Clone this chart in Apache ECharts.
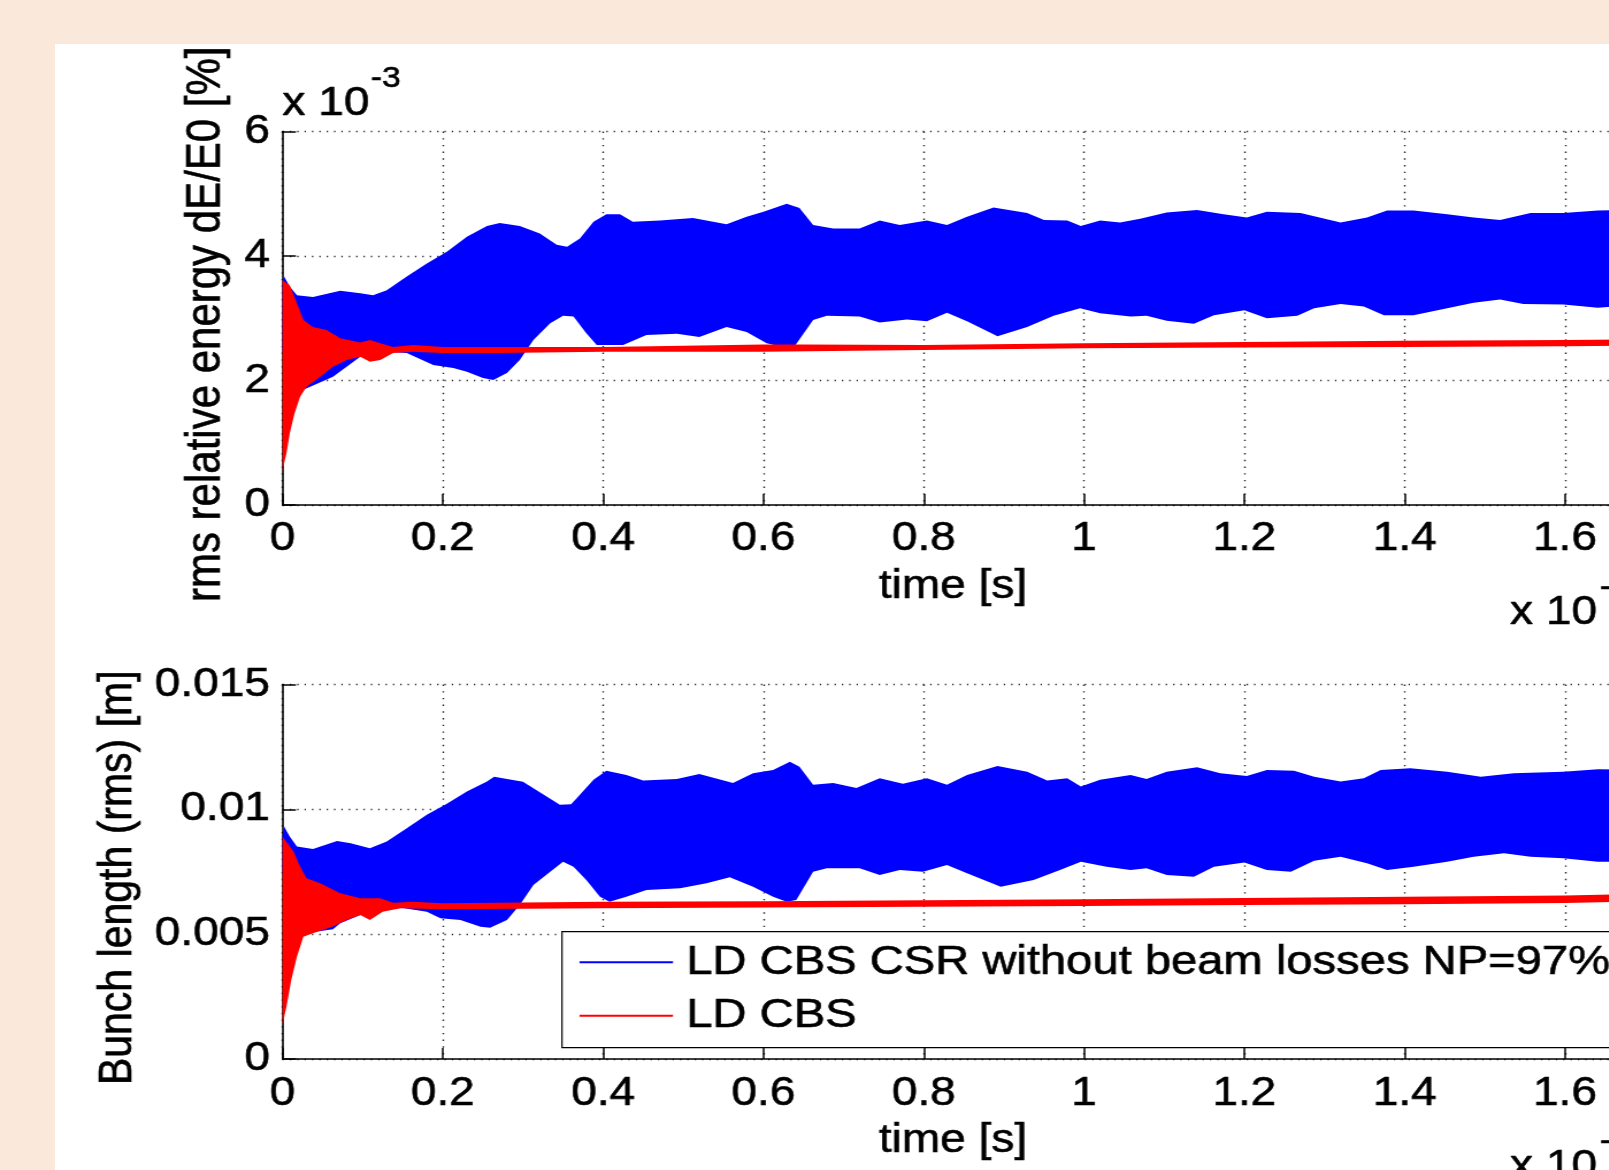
<!DOCTYPE html>
<html>
<head>
<meta charset="utf-8">
<script src="https://cdn.jsdelivr.net/npm/echarts@6/dist/echarts.min.js"></script>
<style>
html,body{margin:0;padding:0;width:1609px;height:1170px;overflow:hidden;background:#FAE8DA;}
#paper{position:absolute;left:55px;top:44px;right:0;bottom:0;background:#ffffff;}
#chart{position:absolute;left:0;top:0;width:1500px;height:1170px;transform:scaleX(1.15);transform-origin:0 0;}
</style>
</head>
<body>
<div id="paper"></div>
<div id="chart"></div>
<script>
// ---------------- data (time in units of 1e-3 s) ----------------
const T_MAX = 1.673;
const SERIES_NAMES = ['LD CBS CSR without beam losses NP=97%', 'LD CBS'];

// Top panel: rms relative energy dE/E0 [%] (units of 1e-3)
const eBlueHiT = [0,0.002,0.009,0.018,0.038,0.072,0.097,0.113,0.13,0.155,0.18,0.205,0.23,0.255,0.271,0.296,0.321,0.342,0.355,0.371,0.388,0.404,0.421,0.437,0.471,0.512,0.554,0.579,0.6,0.629,0.645,0.662,0.687,0.72,0.745,0.77,0.804,0.829,0.854,0.887,0.929,0.95,0.979,0.996,1.02,1.045,1.07,1.103,1.141,1.174,1.203,1.228,1.27,1.32,1.353,1.378,1.411,1.453,1.486,1.519,1.557,1.598,1.641,1.673];
const eBlueHiV = [3.55,3.67,3.51,3.37,3.34,3.44,3.40,3.37,3.45,3.67,3.88,4.07,4.31,4.48,4.53,4.48,4.36,4.18,4.15,4.28,4.55,4.67,4.67,4.55,4.57,4.61,4.51,4.63,4.71,4.84,4.77,4.50,4.44,4.44,4.57,4.50,4.57,4.50,4.63,4.78,4.69,4.58,4.57,4.48,4.57,4.54,4.60,4.70,4.74,4.67,4.62,4.71,4.69,4.54,4.62,4.73,4.73,4.67,4.62,4.58,4.69,4.69,4.73,4.74];
const eBlueLoT = [0,0.01,0.026,0.063,0.097,0.13,0.155,0.188,0.213,0.23,0.25,0.263,0.28,0.296,0.313,0.334,0.35,0.363,0.379,0.392,0.425,0.454,0.492,0.52,0.554,0.579,0.604,0.62,0.64,0.662,0.679,0.72,0.745,0.779,0.804,0.829,0.854,0.892,0.929,0.962,0.995,1.02,1.058,1.078,1.103,1.137,1.162,1.2,1.228,1.266,1.287,1.32,1.349,1.374,1.411,1.453,1.486,1.519,1.548,1.598,1.641,1.673];
const eBlueLoV = [2.5,1.95,1.85,2.06,2.38,2.46,2.44,2.25,2.2,2.14,2.04,2.01,2.12,2.33,2.65,2.92,3.04,3.03,2.76,2.57,2.57,2.73,2.75,2.70,2.86,2.78,2.60,2.55,2.57,2.97,3.04,3.03,2.93,2.98,2.95,3.09,2.95,2.71,2.86,3.04,3.16,3.08,3.03,3.04,2.96,2.91,3.05,3.13,3.00,3.04,3.16,3.23,3.19,3.05,3.05,3.16,3.25,3.30,3.23,3.22,3.17,3.20];
const eRedHiT = [0,0.009,0.018,0.026,0.038,0.055,0.072,0.097,0.109,0.122,0.138,0.163,0.2,0.27,0.4,0.6,0.65,0.8,1.0,1.2,1.4,1.6,1.673];
const eRedHiV = [3.61,3.53,3.24,2.97,2.86,2.81,2.68,2.61,2.65,2.60,2.54,2.57,2.54,2.54,2.54,2.58,2.58,2.57,2.60,2.62,2.64,2.65,2.66];
const eRedLoT = [0,0.005,0.009,0.015,0.022,0.03,0.047,0.063,0.08,0.097,0.109,0.122,0.138,0.163,0.2,0.27,0.4,0.6,0.8,1.0,1.2,1.4,1.6,1.673];
const eRedLoV = [0.56,0.83,1.15,1.47,1.74,1.90,2.06,2.22,2.33,2.38,2.30,2.33,2.44,2.46,2.44,2.44,2.46,2.46,2.49,2.52,2.53,2.54,2.55,2.56];

// Bottom panel: bunch length (rms) [m]
const bBlueHiT = [0,0.002,0.009,0.018,0.038,0.068,0.085,0.109,0.13,0.155,0.18,0.205,0.23,0.255,0.264,0.3,0.33,0.346,0.36,0.367,0.388,0.404,0.429,0.45,0.492,0.52,0.562,0.587,0.612,0.633,0.645,0.662,0.687,0.716,0.745,0.774,0.804,0.829,0.854,0.892,0.929,0.954,0.979,0.996,1.02,1.058,1.078,1.103,1.141,1.17,1.203,1.228,1.262,1.287,1.32,1.349,1.37,1.407,1.453,1.495,1.536,1.598,1.641,1.673];
const bBlueHiV = [0.0089,0.00931,0.00891,0.00851,0.00841,0.00873,0.00864,0.00844,0.00871,0.00924,0.00978,0.01022,0.01071,0.01111,0.01131,0.0111,0.0105,0.01018,0.0102,0.01044,0.01118,0.01155,0.01138,0.01115,0.01121,0.01142,0.01105,0.01145,0.01158,0.01191,0.01171,0.01098,0.01105,0.01085,0.01125,0.01102,0.01125,0.01098,0.01138,0.01174,0.01151,0.01115,0.01125,0.01091,0.01118,0.01138,0.01121,0.01151,0.01169,0.01145,0.01134,0.01158,0.01155,0.01131,0.01111,0.01125,0.01158,0.01165,0.01151,0.01131,0.01145,0.01151,0.01161,0.0116];
const bBlueLoT = [0,0.01,0.03,0.063,0.072,0.097,0.122,0.15,0.18,0.197,0.222,0.247,0.259,0.28,0.296,0.313,0.334,0.35,0.363,0.379,0.396,0.408,0.429,0.454,0.496,0.529,0.558,0.587,0.612,0.629,0.641,0.662,0.679,0.72,0.745,0.77,0.799,0.829,0.854,0.896,0.937,0.97,0.996,1.028,1.058,1.078,1.103,1.137,1.162,1.2,1.228,1.258,1.287,1.32,1.353,1.378,1.411,1.453,1.486,1.524,1.557,1.598,1.641,1.673];
const bBlueLoV = [0.0075,0.0055,0.00505,0.0052,0.00544,0.00577,0.0060,0.00605,0.0059,0.00564,0.00557,0.0053,0.00526,0.00557,0.00617,0.00697,0.0075,0.0079,0.0077,0.00717,0.0065,0.0063,0.0065,0.00677,0.00684,0.00704,0.00728,0.0069,0.0065,0.0063,0.00637,0.0075,0.00764,0.00764,0.00737,0.00757,0.0075,0.00777,0.00744,0.0069,0.00717,0.00757,0.0079,0.0077,0.00757,0.00764,0.00737,0.0073,0.0077,0.00787,0.00757,0.0075,0.00794,0.0081,0.00784,0.00757,0.0077,0.0079,0.0081,0.00824,0.0081,0.00804,0.0079,0.0079];
const bRedHiT = [0,0.014,0.022,0.03,0.047,0.072,0.097,0.122,0.138,0.163,0.2,0.4,0.6,0.8,1.0,1.2,1.4,1.6,1.673];
const bRedHiV = [0.0089,0.0083,0.0077,0.00724,0.00704,0.00664,0.00644,0.00644,0.00626,0.0063,0.00624,0.0063,0.00632,0.00636,0.0064,0.00645,0.0065,0.00655,0.0066];
const bRedLoT = [0,0.005,0.011,0.018,0.026,0.038,0.063,0.08,0.097,0.109,0.125,0.147,0.2,0.4,0.6,0.8,1.0,1.2,1.4,1.6,1.673];
const bRedLoV = [0.00136,0.0021,0.00317,0.0041,0.0049,0.00504,0.00531,0.00557,0.00577,0.00557,0.0059,0.00604,0.006,0.00604,0.00607,0.0061,0.00613,0.00617,0.0062,0.00625,0.0063];

// ---------------- layout / styles ----------------
const SX = 1.15;               // horizontal stretch of the whole figure
const lx = v => v / SX;        // screen px -> logical px
const FONT = '"Liberation Sans", Arial, Helvetica, sans-serif';
const BLUE = '#0000ff', RED = '#ff0000';
const TB = 0.6;                // light text stroke to match the heavier rendering of the original

function textStyle(size) {
  return { fontFamily: FONT, fontSize: size, color: '#000', textBorderColor: '#000', textBorderWidth: TB };
}
function xAxisCfg(gi) {
  return {
    type: 'value', gridIndex: gi, min: 0, max: T_MAX, interval: 0.2,
    name: 'time [s]', nameLocation: 'middle', nameGap: 62,
    nameTextStyle: textStyle(40),
    axisLine: { show: true, onZero: false, lineStyle: { color: '#000', width: 1.6 } },
    axisTick: { show: true, inside: true, length: 11, lineStyle: { color: '#000', width: 1.5 } },
    axisLabel: Object.assign({ show: true, margin: gi === 0 ? 14 : 14.5, showMaxLabel: false,
      formatter: v => String(+v.toFixed(1)) }, textStyle(40)),
    splitLine: { show: true, lineStyle: { color: '#222', width: 1.4, type: [1.4, 5.3] } }
  };
}
function yAxisCfg(gi, max, interval, name, gap, digits, nameSize) {
  return {
    type: 'value', gridIndex: gi, min: 0, max: max, interval: interval,
    name: name, nameLocation: 'middle', nameGap: gap, nameRotate: 90,
    nameTextStyle: Object.assign(textStyle(nameSize), { padding: [0, 12, 0, 0] }),
    axisLine: { show: true, onZero: false, lineStyle: { color: '#000', width: 1.6 } },
    axisTick: { show: true, inside: true, length: 11.7, lineStyle: { color: '#000', width: 1.5 } },
    axisLabel: Object.assign({ show: true, margin: 11,
      formatter: v => String(+v.toFixed(digits)) }, textStyle(40)),
    splitLine: { show: true, lineStyle: { color: '#222', width: 1.4, type: [1.2, 5.2] } }
  };
}
function band(name, color, gi, hiT, hiV, loT, loV) {
  return {
    type: 'custom', name: name, coordinateSystem: 'cartesian2d',
    xAxisIndex: gi, yAxisIndex: gi, clip: true, silent: true,
    itemStyle: { color: color },
    data: hiT.map((t, i) => [t, hiV[i]]),
    encode: { x: 0, y: 1 },
    renderItem: function (params, api) {
      if (params.dataIndex !== 0) return null;
      const pts = [];
      for (let i = 0; i < hiT.length; i++) pts.push(api.coord([hiT[i], hiV[i]]));
      for (let i = loT.length - 1; i >= 0; i--) pts.push(api.coord([loT[i], loV[i]]));
      return { type: 'polygon', shape: { points: pts }, style: { fill: color } };
    }
  };
}
function txt(x, y, text, size) {
  return { type: 'text', x: x, y: y, z: 50, silent: true,
    style: { text: text, fontFamily: FONT, fontSize: size, fill: '#000', stroke: '#000', lineWidth: TB,
      align: 'left', verticalAlign: 'middle' } };
}

const gridLeft = lx(282.5), gridWidth = lx(1623.5) - lx(282.5);

const option = {
  animation: false,
  backgroundColor: 'transparent',
  grid: [
    { left: gridLeft, top: 131.5, width: gridWidth, height: 373.5 },
    { left: gridLeft, top: 684.5, width: gridWidth, height: 374.5 }
  ],
  xAxis: [xAxisCfg(0), xAxisCfg(1)],
  yAxis: [
    yAxisCfg(0, 6, 2, 'rms relative energy dE/E0 [%]', 42.5, 0, 42),
    yAxisCfg(1, 0.015, 0.005, 'Bunch length (rms) [m]', 122, 3, 41)
  ],
  legend: {
    show: true, orient: 'vertical', left: lx(562), top: 931.7,
    padding: [9.1, 25, 10.5, lx(579.5) - lx(562)],
    itemWidth: lx(673) - lx(579.5), itemHeight: 2, itemGap: 10.4,
    icon: 'rect', selectedMode: false,
    backgroundColor: '#fff', borderColor: '#000', borderWidth: 1.2, borderRadius: 0,
    textStyle: Object.assign(textStyle(41), { lineHeight: 40, padding: [3, 0, 0, 6.5] }),
    data: [
      { name: SERIES_NAMES[0], itemStyle: { color: BLUE } },
      { name: SERIES_NAMES[1], itemStyle: { color: RED } }
    ]
  },
  graphic: [
    txt(lx(282.4), 104, 'x 10', 40),
    txt(lx(371), 79, '-3', 29),
    txt(lx(1510), 613, 'x 10', 40),
    txt(lx(1600), 588, '-3', 29),
    txt(lx(1510), 1167, 'x 10', 40),
    txt(lx(1600), 1142, '-3', 29)
  ],
  series: [
    band(SERIES_NAMES[0], BLUE, 0, eBlueHiT, eBlueHiV, eBlueLoT, eBlueLoV),
    band(SERIES_NAMES[1], RED, 0, eRedHiT, eRedHiV, eRedLoT, eRedLoV),
    band(SERIES_NAMES[0], BLUE, 1, bBlueHiT, bBlueHiV, bBlueLoT, bBlueLoV),
    band(SERIES_NAMES[1], RED, 1, bRedHiT, bRedHiV, bRedLoT, bRedLoV)
  ]
};

const chart = echarts.init(document.getElementById('chart'), null, { renderer: 'canvas' });
chart.setOption(option);
</script>
</body>
</html>
